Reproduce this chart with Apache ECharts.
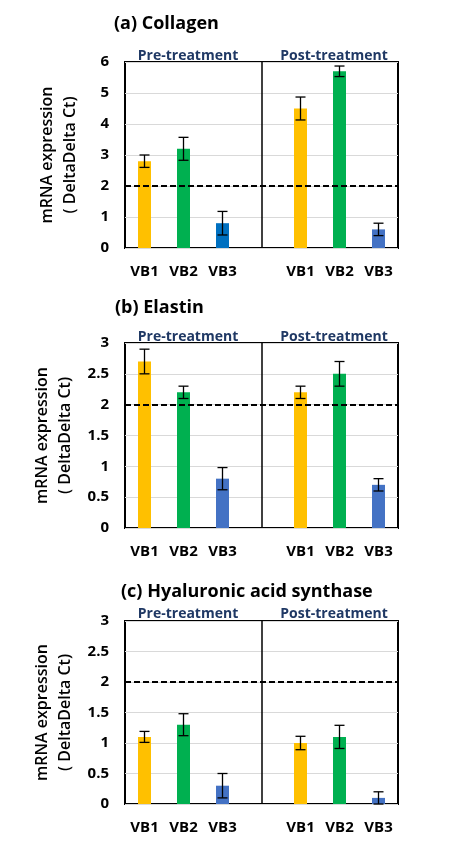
<!doctype html>
<html>
<head>
<meta charset="utf-8" />
<style>
  body { margin: 0; background: #fff; }
  #chart { width: 475px; height: 842px; }
</style>
<script src="https://cdn.jsdelivr.net/npm/echarts@6/dist/echarts.min.js"></script>
</head>
<body>
<div id="chart"></div>
<script>
// 7 slots: the middle one is empty and carries the pre/post divider
const categories = ["VB1", "VB2", "VB3", "", "VB1", "VB2", "VB3"];

const collagenMean = [2.8, 3.2, 0.8, null, 4.5, 5.7, 0.6];
const collagenErr = [0.2, 0.37, 0.38, null, 0.37, 0.17, 0.2];
const elastinMean = [2.7, 2.2, 0.8, null, 2.2, 2.5, 0.7];
const elastinErr = [0.2, 0.1, 0.18, null, 0.1, 0.2, 0.1];
const hasMean = [1.1, 1.3, 0.3, null, 1.0, 1.1, 0.1];
const hasErr = [0.09, 0.18, 0.2, null, 0.11, 0.19, 0.1];

const collagenColors = ["#FFC000", "#00B050", "#0070C0", null, "#FFC000", "#00B050", "#4472C4"];
const otherColors = ["#FFC000", "#00B050", "#4472C4", null, "#FFC000", "#00B050", "#4472C4"];

const panelTitles = ["(a) Collagen", "(b) Elastin", "(c) Hyaluronic acid synthase"];
const yMax = [6, 3, 3];
const yStep = [1, 0.5, 0.5];

const panels = [
  { top: 62, height: 186, titleTop: 10, titleLeft: 109, subTop: 44 },
  { top: 343, height: 185, titleTop: 294, titleLeft: 110, subTop: 325 },
  { top: 621, height: 183, titleTop: 578, titleLeft: 116, subTop: 602 },
];
const means = [collagenMean, elastinMean, hasMean];
const errs = [collagenErr, elastinErr, hasErr];
const colors = [collagenColors, otherColors, otherColors];

const font = "'Open Sans', 'DejaVu Sans', sans-serif";

const grid = [], xAxis = [], yAxis = [], series = [], title = [];

panels.forEach((p, i) => {
  grid.push({
    left: 125, width: 273, top: p.top, height: p.height,
    show: true, borderColor: "#000", borderWidth: 2, backgroundColor: "transparent",
  });
  xAxis.push({
    type: "category", gridIndex: i, data: categories,
    axisLine: { show: false }, axisTick: { show: false },
    axisLabel: { margin: 16, color: "#000", fontFamily: font, fontWeight: "bold", fontSize: 15, interval: 0 },
  });
  yAxis.push({
    type: "value", gridIndex: i, min: 0, max: yMax[i], interval: yStep[i],
    axisLine: { show: false }, axisTick: { show: false },
    axisLabel: { margin: 16, color: "#000", fontFamily: font, fontWeight: "bold", fontSize: 15 },
    splitLine: { lineStyle: { color: "#D9D9D9", width: 1 } },
    name: "mRNA expression\n( DeltaDelta Ct)",
    nameLocation: "middle", nameRotate: 90, nameGap: 43,
    nameTextStyle: { fontFamily: font, fontWeight: 600, fontSize: 16, color: "#000", lineHeight: 23 },
  });
  series.push({
    type: "bar", xAxisIndex: i, yAxisIndex: i, barWidth: 13,
    data: means[i].map((v, k) => v == null ? null : { value: v, itemStyle: { color: colors[i][k] } }),
    markLine: {
      silent: true, symbol: "none", label: { show: false },
      data: [
        { yAxis: 2, lineStyle: { color: "#000", width: 2, type: [6, 3] } },
        { xAxis: 3, lineStyle: { color: "#000", width: 1.5, type: "solid" } },
      ],
    },
  });
  series.push({
    type: "custom", xAxisIndex: i, yAxisIndex: i, z: 5,
    data: means[i].map((v, k) => v == null ? null : [k, v - errs[i][k], v + errs[i][k]]).filter(d => d),
    renderItem: (params, api) => {
      const lo = api.coord([api.value(0), api.value(1)]);
      const hi = api.coord([api.value(0), api.value(2)]);
      const cap = 5;
      const style = { stroke: "#000", lineWidth: 1.3 };
      return {
        type: "group",
        children: [
          { type: "line", shape: { x1: lo[0], y1: lo[1], x2: hi[0], y2: hi[1] }, style },
          { type: "line", shape: { x1: lo[0] - cap, y1: lo[1], x2: lo[0] + cap, y2: lo[1] }, style },
          { type: "line", shape: { x1: hi[0] - cap, y1: hi[1], x2: hi[0] + cap, y2: hi[1] }, style },
        ],
      };
    },
  });
  title.push({
    text: panelTitles[i], left: p.titleLeft, top: p.titleTop,
    textStyle: { fontFamily: font, fontWeight: "bold", fontSize: 18, color: "#000" },
  });
  title.push({
    text: "Pre-treatment", left: 183, top: p.subTop, textAlign: "center",
    textStyle: { fontFamily: font, fontWeight: "bold", fontSize: 14, color: "#1F3864" },
  });
  title.push({
    text: "Post-treatment", left: 329, top: p.subTop, textAlign: "center",
    textStyle: { fontFamily: font, fontWeight: "bold", fontSize: 14, color: "#1F3864" },
  });
});

const chart = echarts.init(document.getElementById("chart"), null, { renderer: "canvas" });
chart.setOption({
  animation: false,
  backgroundColor: "#fff",
  title, grid, xAxis, yAxis, series,
});
</script>
</body>
</html>
